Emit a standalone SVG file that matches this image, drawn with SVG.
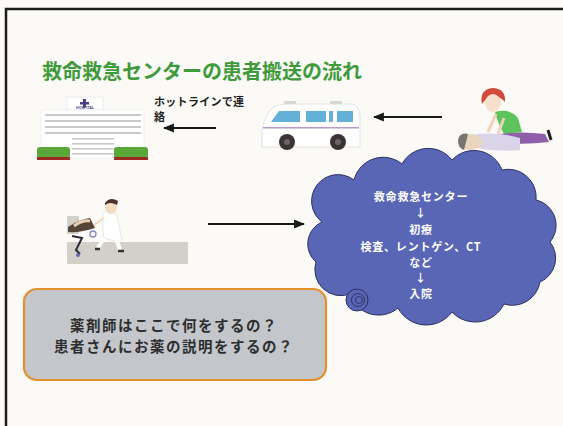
<svg xmlns="http://www.w3.org/2000/svg" width="563" height="426" viewBox="0 0 563 426">
  <defs>
    <style>
      .jp { font-family: "Noto Sans CJK JP", "Noto Sans", sans-serif; font-weight: bold; }
      .title { fill: #3f9a3c; font-size: 20px; }
      .note { fill: #1e1e1e; font-size: 11px; letter-spacing: 0.3px; }
      .cloudtxt { fill: #ffffff; font-size: 11px; letter-spacing: 0.8px; text-anchor: middle; }
      .qtxt { fill: #2e2e2e; font-size: 14.5px; letter-spacing: 1.5px; text-anchor: middle; }
      .conn { stroke: #1a1a1a; stroke-width: 2.2; fill: none; marker-end: url(#head); }
      .win { fill: #c9c9c9; }
    </style>
    <marker id="head" viewBox="0 0 10 10" refX="9" refY="5" markerWidth="5" markerHeight="5" orient="auto" markerUnits="strokeWidth">
      <path d="M0,1 L10,5 L0,9 Z" fill="#1a1a1a"/>
    </marker>
  </defs>

  <!-- slide background and frame -->
  <rect x="0" y="0" width="563" height="426" fill="#fbfaf6"/>
  <path d="M6,426 V9 H563" fill="none" stroke="#1c1c1c" stroke-width="2.5"/>

  <g id="title">
    <text class="jp title" x="42" y="79">救命救急センターの患者搬送の流れ</text>
  </g>

  <!-- hospital building -->
  <g id="hospital">
    <rect x="67" y="97" width="36" height="13" fill="#ffffff" stroke="#e4e4e4" stroke-width="0.6"/>
    <path d="M83,99 h3 v3 h3 v2.5 h-3 v3 h-3 v-3 h-3 v-2.5 h3 z" fill="#4a3f8c"/>
    <text x="85" y="109" font-family="Liberation Sans, sans-serif" font-size="3.6" font-weight="bold" fill="#4a3f8c" text-anchor="middle">HOSPITAL</text>
    <rect x="41" y="110" width="103" height="48" fill="#ffffff" stroke="#e6e6e6" stroke-width="0.6"/>
    <g class="win">
      <rect x="45" y="114" width="96" height="2"/>
      <rect x="45" y="120" width="96" height="2"/>
      <rect x="45" y="126" width="96" height="2"/>
      <rect x="45" y="132" width="96" height="2"/>
      <rect x="72" y="138" width="42" height="1.6"/>
      <rect x="72" y="143" width="42" height="1.6"/>
      <rect x="72" y="148" width="42" height="1.6"/>
      <rect x="72" y="153" width="42" height="1.6"/>
    </g>
    <rect x="37" y="147" width="33" height="11" rx="3" fill="#5ba83a"/>
    <rect x="37" y="157" width="33" height="3" fill="#9a2a22"/>
    <rect x="114" y="147" width="34" height="11" rx="3" fill="#5ba83a"/>
    <rect x="114" y="157" width="34" height="3" fill="#9a2a22"/>
  </g>

  <g id="hotline-label">
    <text class="jp note" x="154" y="106">ホットラインで連</text>
    <text class="jp note" x="154" y="121">絡</text>
  </g>

  <!-- ambulance -->
  <g id="ambulance">
    <rect x="284" y="101" width="12" height="3" fill="#d6d6d6"/>
    <rect x="330" y="101" width="12" height="3" fill="#d6d6d6"/>
    <path d="M262,147 V130 Q263,120 272,108 Q278,104 290,104 H352 Q358,105 360,115 V147 Z" fill="#ffffff" stroke="#dadada" stroke-width="0.8"/>
    <path d="M271,122 L279,111 H300 V122 Z" fill="#63b0d8"/>
    <rect x="306" y="111" width="20" height="11" fill="#63b0d8"/>
    <rect x="329" y="111" width="4" height="11" fill="#63b0d8"/>
    <rect x="337" y="111" width="16" height="11" fill="#63b0d8"/>
    <rect x="263" y="127" width="96" height="1.5" fill="#b79acb"/>
    <circle cx="287" cy="142" r="8" fill="#3a3436"/>
    <circle cx="287" cy="142" r="3" fill="#6a6466"/>
    <circle cx="338" cy="142" r="8" fill="#3a3436"/>
    <circle cx="338" cy="142" r="3" fill="#6a6466"/>
  </g>

  <!-- CPR scene -->
  <g id="cpr">
    <path d="M482,104 Q479,90 492,88 Q506,88 505,102 Q500,96 492,96 Q486,98 482,104 Z" fill="#d24a3c"/>
    <ellipse cx="493" cy="103" rx="8" ry="9" fill="#f7e0cc"/>
    <path d="M495,112 Q510,108 518,118 L522,132 L504,134 Q498,124 495,112 Z" fill="#5cc45a"/>
    <path d="M496,114 L488,132" stroke="#f0d2bc" stroke-width="3"/>
    <path d="M504,118 L498,134" stroke="#f0d2bc" stroke-width="3"/>
    <path d="M500,134 Q520,131 545,134 L549,142 Q525,145 505,143 Z" fill="#8e5ea8"/>
    <path d="M548,130 L551,140" stroke="#222" stroke-width="3"/>
    <path d="M476,134 Q500,132 520,138 L520,150 Q495,152 478,148 Z" fill="#d9d4e8"/>
    <ellipse cx="470" cy="142" rx="12" ry="8" fill="#e9d6bc"/>
    <path d="M458,140 Q460,132 468,134 L464,150 Q458,148 458,140 Z" fill="#7a7470"/>
  </g>

  <!-- nurse pushing a stretcher -->
  <g id="stretcher">
    <rect x="67" y="242" width="121" height="22" fill="#d3d0ca"/>
    <rect x="67" y="216" width="12" height="18" fill="#d3d0ca"/>
    <path d="M68,227 Q80,219 90,218 L95,228 Q80,233 68,232 Z" fill="#54443a"/>
    <path d="M74,226 Q82,220 90,221" stroke="#e8cfb4" stroke-width="3" fill="none"/>
    <path d="M72,236 L82,238 L76,250 L80,254" stroke="#2c2c3a" stroke-width="2" fill="none"/>
    <circle cx="78" cy="255" r="2" fill="#6a6aa8"/>
    <circle cx="93" cy="234" r="3" fill="none" stroke="#8888c8" stroke-width="1.3"/>
    <path d="M103,213 Q114,206 118,220 L122,240 Q112,242 104,238 Q102,228 103,213 Z" fill="#ffffff" stroke="#d8d8d8" stroke-width="0.6"/>
    <path d="M104,218 L94,225" stroke="#f0d8c0" stroke-width="2"/>
    <ellipse cx="111" cy="207" rx="6" ry="7" fill="#f3dcc4"/>
    <path d="M105,203 Q110,196 118,201 L117,205 Q110,201 105,205 Z" fill="#4a3228"/>
    <path d="M104,238 L98,248 M116,238 L120,250" stroke="#ffffff" stroke-width="4"/>
    <path d="M95,249 L100,249 M118,251 L124,251" stroke="#3a3030" stroke-width="2.5"/>
  </g>

  <!-- blue cloud with the in-hospital flow -->
  <g id="cloud">
    <path d="M322,222 A26,26 0 0 1 354,180 A30,30 0 0 1 402,164 A30,30 0 0 1 452,160 A30,30 0 0 1 502,170 A28,28 0 0 1 536,200 A26,26 0 0 1 550,242 A26,26 0 0 1 540,282 A28,28 0 0 1 504,304 A32,32 0 0 1 452,312 A32,32 0 0 1 398,308 A30,30 0 0 1 350,294 A26,26 0 0 1 316,262 A24,24 0 0 1 322,222 Z" fill="#5966b6" stroke="#2a3060" stroke-width="1"/>
    <circle cx="357" cy="300" r="11" fill="#5966b6" stroke="#2a3060" stroke-width="1"/>
    <circle cx="358" cy="300" r="6.5" fill="none" stroke="#2a3060" stroke-width="0.9"/>
    <circle cx="359" cy="300" r="3.5" fill="none" stroke="#2a3060" stroke-width="0.9"/>
    <text class="jp cloudtxt" x="421" y="201">救命救急センター</text>
    <text class="jp cloudtxt" x="421" y="217">↓</text>
    <text class="jp cloudtxt" x="421" y="234">初療</text>
    <text class="jp cloudtxt" x="421" y="251">検査、レントゲン、CT</text>
    <text class="jp cloudtxt" x="421" y="267">など</text>
    <text class="jp cloudtxt" x="421" y="282">↓</text>
    <text class="jp cloudtxt" x="421" y="298">入院</text>
  </g>

  <!-- pharmacist question box -->
  <g id="question">
    <rect x="24" y="289" width="302" height="91" rx="13" fill="#c3c6cb" stroke="#e38f2c" stroke-width="2.2"/>
    <text class="jp qtxt" x="174" y="331">薬剤師はここで何をするの？</text>
    <text class="jp qtxt" x="174" y="352">患者さんにお薬の説明をするの？</text>
  </g>

  <g id="connectors">
    <line class="conn" x1="216" y1="128" x2="164" y2="128"/>
    <line class="conn" x1="442" y1="117" x2="374" y2="117"/>
    <line class="conn" x1="208" y1="224" x2="304" y2="224"/>
  </g>
</svg>
